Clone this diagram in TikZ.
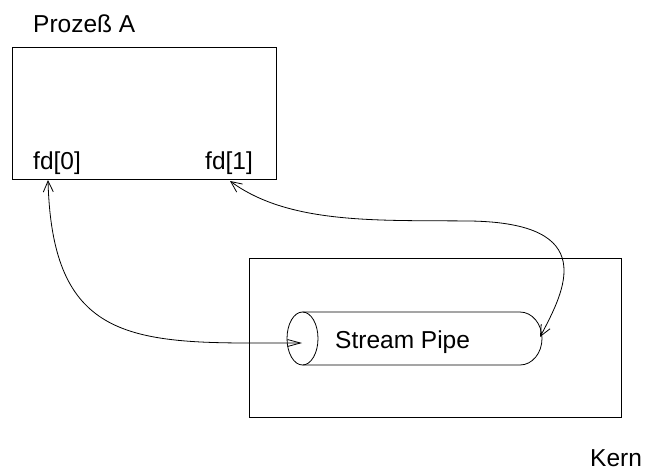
\documentclass[tikz,border=0pt]{standalone}
\usepackage{fontspec}
\setmainfont{Liberation Sans}
\usetikzlibrary{arrows.meta}
\begin{document}
\begin{tikzpicture}[x=1pt,y=-1pt,
  lbl/.style={anchor=base west,inner sep=0pt,font=\fontsize{24.5}{29}\selectfont},
  boxline/.style={draw,line width=0.8pt},
  conn/.style={line width=0.8pt},
  arrowsA/.style={arrows={Straight Barb[length=11pt,width=10pt]-Straight Barb[length=13pt,width=7pt]}},
  arrowsB/.style={arrows={Straight Barb[length=11pt,width=10pt]-Straight Barb[length=11pt,width=10pt]}}]
\useasboundingbox (0,0) rectangle (647,472);
% boxes
\node[boxline,rectangle,inner sep=0pt,minimum width=264pt,minimum height=132pt] (proc) at (144,113) {};
\node[boxline,rectangle,inner sep=0pt,minimum width=372pt,minimum height=159pt] (kern) at (435,337.5) {};
% labels
\node[lbl] (tproc) at (33,32) {Prozeß A};
\node[lbl] (tfd0) at (33,169) {fd[0]};
\node[lbl] (tfd1) at (205,169) {fd[1]};
\node[lbl] (tpipe) at (335,348) {Stream Pipe};
\node[lbl] (tkern) at (590,466) {Kern};
% pipe
\draw[line width=0.8pt] (302.5,338.5) ellipse [x radius=15.5, y radius=26.5];
\draw[line width=0.8pt] (302.5,312) -- (520,312)
  .. controls (532.2,312) and (542,323.9) .. (542,338.5)
  .. controls (542,353.1) and (532.2,365) .. (520,365) -- (302.5,365);
% connector points
\coordinate (fd0p) at (48,180);
\coordinate (fd1p) at (230,181);
\coordinate (pin) at (302,343);
\coordinate (pout) at (540,337);
% connectors
\draw[conn,arrowsA] (fd0p) .. controls (52,330) and (120,343) .. (250,343) -- (pin);
\draw[conn,arrowsB] (fd1p) .. controls (290,225) and (380,220) .. (470,221)
  .. controls (600,223) and (565,290) .. (pout);
\end{tikzpicture}
\end{document}
